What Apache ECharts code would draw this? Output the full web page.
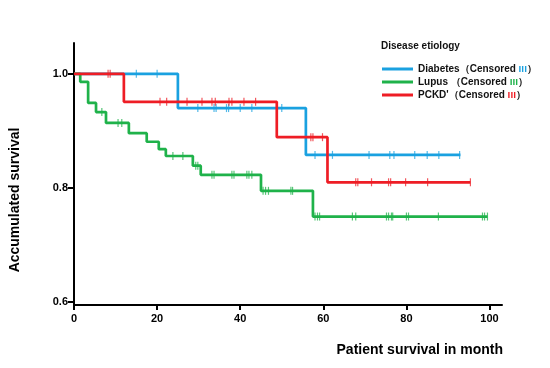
<!DOCTYPE html>
<html>
<head>
<meta charset="utf-8">
<script src="https://cdn.jsdelivr.net/npm/echarts@6/dist/echarts.min.js"></script>
<style>
  html, body { margin: 0; padding: 0; background: #fff; }
  #main { width: 550px; height: 368px; }
</style>
</head>
<body>
<div id="main"></div>
<script>
// step curves: time of each drop (months) and survival after it, last entry = end of follow-up
var diabetesTimes = [0, 25, 55.8, 93];
var diabetesSurv = [1.0, 0.94, 0.858, 0.858];
var diabetesCensored = [15, 20, 29.8, 33.7, 34.2, 36.7, 37.2, 40, 42.8, 50, 58, 62.2, 71, 76, 77, 82, 85, 87.8, 92.8];

var lupusTimes = [0, 1.5, 3.4, 5.3, 7.7, 13.2, 17.5, 20.4, 22.1, 28.6, 30.5, 45, 57.5, 99.5];
var lupusSurv = [1.0, 0.986, 0.949, 0.933, 0.914, 0.896, 0.881, 0.868, 0.856, 0.839, 0.823, 0.795, 0.75, 0.75];
var lupusCensored = [6.7, 10.6, 11.5, 23.8, 26.2, 29.3, 29.8, 33.2, 33.7, 38, 38.5, 41.6, 42.1, 42.8, 45.5, 46.1, 46.8,
    52.2, 52.6, 58, 58.6, 59.1, 67, 67.8, 75.2, 75.7, 76.4, 76.7, 80, 80.5, 87.7, 98.3, 98.8, 99.5];

var pckdTimes = [0, 12, 48.8, 61, 95.4];
var pckdSurv = [1.0, 0.951, 0.889, 0.81, 0.81];
var pckdCensored = [8.2, 8.7, 20.7, 22.3, 27.2, 30.8, 33.2, 34, 37.3, 38, 40.9, 43.7, 57, 57.5, 59.8,
    67.8, 68.3, 71.6, 75.7, 76.2, 79.8, 85.1, 95.4];

var xTicks = [0, 20, 40, 60, 80, 100];
var yTicks = [0.6, 0.8, 1.0];

var groups = ['Diabetes', 'Lupus', 'PCKD'];
var colors = ['#1aa1e0', '#1fb24a', '#ee1d25'];

function stepData(times, surv) {
    var out = [];
    for (var i = 0; i < times.length; i++) {
        out.push([times[i], surv[i]]);
    }
    return out;
}

// survival level at time t
function levelAt(times, surv, t) {
    var s = surv[0];
    for (var i = 0; i < times.length; i++) {
        if (times[i] <= t) s = surv[i];
    }
    return s;
}

function censorData(times, surv, cens) {
    var out = [];
    for (var i = 0; i < cens.length; i++) {
        out.push([cens[i], levelAt(times, surv, cens[i])]);
    }
    return out;
}

var curves = [
    [diabetesTimes, diabetesSurv, diabetesCensored],
    [lupusTimes, lupusSurv, lupusCensored],
    [pckdTimes, pckdSurv, pckdCensored]
];

var series = [];
for (var g = 0; g < groups.length; g++) {
    var c = curves[g];
    series.push({
        name: groups[g],
        type: 'line',
        step: 'end',
        data: stepData(c[0], c[1]),
        symbol: 'none',
        lineStyle: { color: colors[g], width: 2.7 },
        itemStyle: { color: colors[g] },
        z: 3 + g
    });
    series.push({
        name: groups[g] + ' censored',
        type: 'scatter',
        data: censorData(c[0], c[1], c[2]),
        symbol: 'rect',
        symbolSize: [1.2, 8],
        itemStyle: { color: colors[g], opacity: 0.75 },
        z: 6 + g
    });
}

var legendNames = {
    'Diabetes': 'Diabetes（Censored {b|ııı}）',
    'Lupus': 'Lupus （Censored {g|ııı}）',
    'PCKD': 'PCKD\'（Censored {r|ııı}）'
};

var chart = echarts.init(document.getElementById('main'));

var option = {
    animation: false,
    backgroundColor: '#fff',
    textStyle: { fontFamily: 'Liberation Sans, Arial, sans-serif' },
    grid: { left: 74, right: 48, top: 43, bottom: 63 },
    title: {
        text: 'Disease etiology',
        left: 376,
        top: 36,
        textStyle: { fontSize: 10, fontWeight: 'bold', color: '#111' }
    },
    legend: {
        data: groups.map(function (n, i) {
            return { name: n, icon: 'rect', itemStyle: { color: colors[i] } };
        }),
        orient: 'vertical',
        left: 377,
        top: 59,
        itemWidth: 31,
        itemHeight: 3,
        itemGap: 3,
        selectedMode: false,
        formatter: function (name) { return legendNames[name]; },
        textStyle: {
            fontSize: 10,
            fontWeight: 'bold',
            color: '#111',
            rich: {
                b: { color: colors[0], fontSize: 10, fontWeight: 'bold' },
                g: { color: colors[1], fontSize: 10, fontWeight: 'bold' },
                r: { color: colors[2], fontSize: 10, fontWeight: 'bold' }
            }
        }
    },
    xAxis: {
        type: 'value',
        min: 0,
        max: 103,
        axisLine: { lineStyle: { color: '#000', width: 2 } },
        axisTick: { customValues: xTicks, length: 5, lineStyle: { color: '#000', width: 2 } },
        axisLabel: { customValues: xTicks, color: '#000', fontWeight: 'bold', fontSize: 11, margin: 8 },
        splitLine: { show: false }
    },
    yAxis: {
        type: 'value',
        min: 0.595,
        max: 1.054,
        axisLine: { show: true, lineStyle: { color: '#000', width: 2 } },
        axisTick: { show: true, customValues: yTicks, length: 6, lineStyle: { color: '#000', width: 2 } },
        axisLabel: {
            customValues: yTicks, color: '#000', fontWeight: 'bold', fontSize: 11, margin: 6,
            formatter: function (v) { return v.toFixed(1); }
        },
        splitLine: { show: false }
    },
    graphic: [
        {
            type: 'text',
            x: 15,
            y: 200,
            rotation: Math.PI / 2,
            style: {
                text: 'Accumulated survival',
                fill: '#000',
                font: 'bold 14px "Liberation Sans", Arial, sans-serif',
                textAlign: 'center',
                textVerticalAlign: 'middle'
            }
        },
        {
            type: 'text',
            x: 503,
            y: 350,
            style: {
                text: 'Patient survival in month',
                fill: '#000',
                font: 'bold 14px "Liberation Sans", Arial, sans-serif',
                textAlign: 'right',
                textVerticalAlign: 'middle'
            }
        }
    ],
    series: series
};

chart.setOption(option);
</script>
</body>
</html>
